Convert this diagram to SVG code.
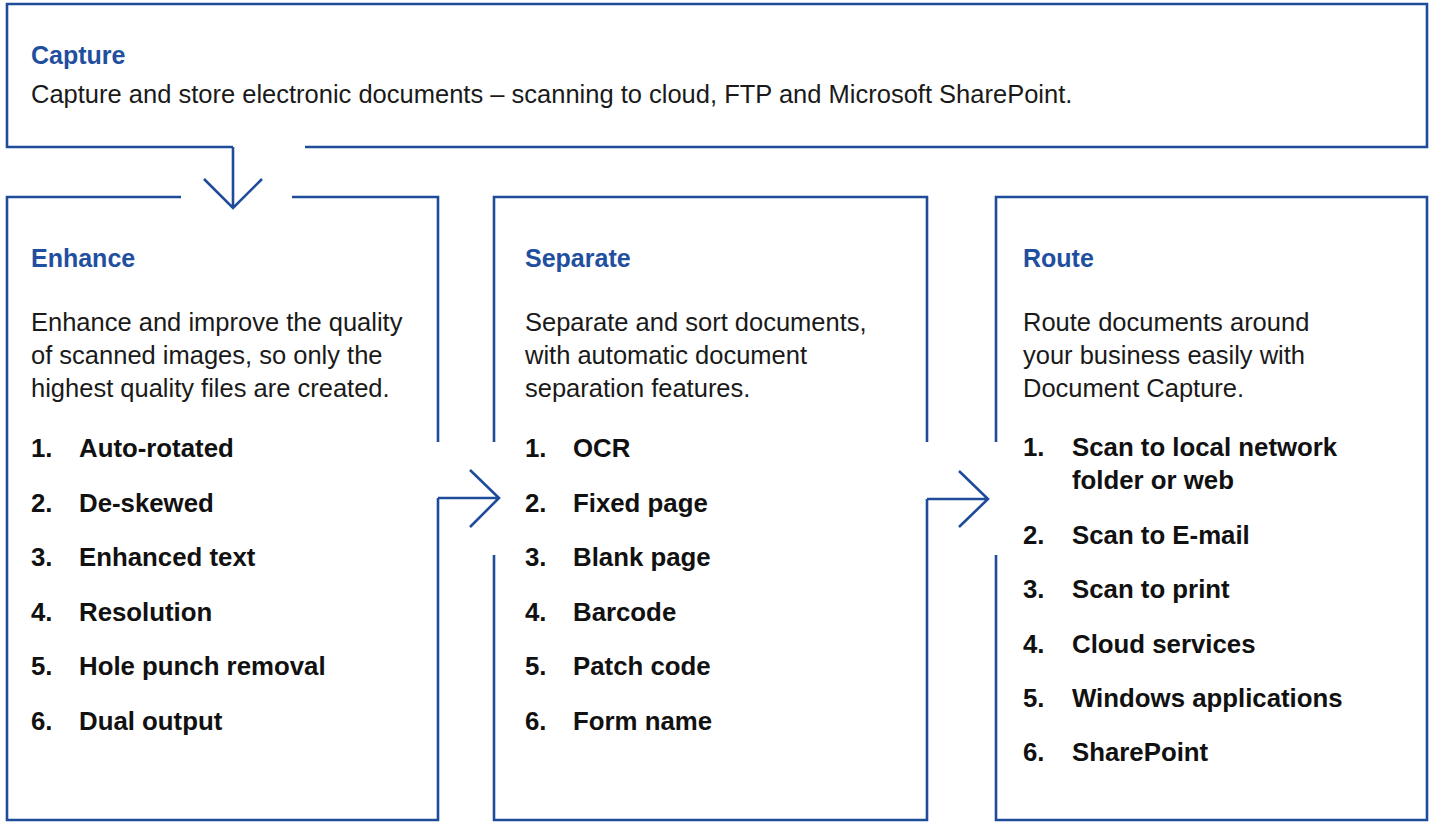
<svg xmlns="http://www.w3.org/2000/svg" width="1434" height="822" viewBox="0 0 1434 822">
<style>
.ln{fill:none;stroke:#1e4c9a;stroke-width:2.6;stroke-linejoin:miter;stroke-linecap:butt}
.h{font-family:"Liberation Sans",Arial,sans-serif;font-weight:bold;font-size:25px;fill:#1f4f9e}
.b{font-family:"Liberation Sans",Arial,sans-serif;font-size:25.5px;fill:#1a1a1a}
.li{font-family:"Liberation Sans",Arial,sans-serif;font-weight:bold;font-size:25.8px;fill:#111}
</style>
<rect width="1434" height="822" fill="#fff"/>
<g id="capture">
<path class="ln" d="M233 147 H7 V4 H1427 V147 H305"/>
<text class="h" x="31" y="64">Capture</text>
<text class="b" x="31" y="103">Capture and store electronic documents – scanning to cloud, FTP and Microsoft SharePoint.</text>
</g>
<g id="enhance">
<path class="ln" d="M181 197 H7 V820 H438 V498 M292 197 H438 V442"/>
<text class="h" x="31" y="267">Enhance</text>
<text class="b" x="31" y="331">Enhance and improve the quality</text>
<text class="b" x="31" y="364">of scanned images, so only the</text>
<text class="b" x="31" y="397">highest quality files are created.</text>
<g class="li">
<text x="31" y="457">1.</text><text x="79" y="457">Auto-rotated</text>
<text x="31" y="511.5">2.</text><text x="79" y="511.5">De-skewed</text>
<text x="31" y="566">3.</text><text x="79" y="566">Enhanced text</text>
<text x="31" y="620.5">4.</text><text x="79" y="620.5">Resolution</text>
<text x="31" y="675">5.</text><text x="79" y="675">Hole punch removal</text>
<text x="31" y="729.5">6.</text><text x="79" y="729.5">Dual output</text>
</g>
</g>
<g id="separate">
<path class="ln" d="M494 555 V820 H927 V499 M927 442 V197 H494 V442"/>
<text class="h" x="525" y="267">Separate</text>
<text class="b" x="525" y="331">Separate and sort documents,</text>
<text class="b" x="525" y="364">with automatic document</text>
<text class="b" x="525" y="397">separation features.</text>
<g class="li">
<text x="525" y="457">1.</text><text x="573" y="457">OCR</text>
<text x="525" y="511.5">2.</text><text x="573" y="511.5">Fixed page</text>
<text x="525" y="566">3.</text><text x="573" y="566">Blank page</text>
<text x="525" y="620.5">4.</text><text x="573" y="620.5">Barcode</text>
<text x="525" y="675">5.</text><text x="573" y="675">Patch code</text>
<text x="525" y="729.5">6.</text><text x="573" y="729.5">Form name</text>
</g>
</g>
<g id="route">
<path class="ln" d="M996 442 V197 H1427 V820 H996 V555"/>
<text class="h" x="1023" y="267">Route</text>
<text class="b" x="1023" y="331">Route documents around</text>
<text class="b" x="1023" y="364">your business easily with</text>
<text class="b" x="1023" y="397">Document Capture.</text>
<g class="li">
<text x="1023" y="456">1.</text><text x="1072" y="456">Scan to local network</text>
<text x="1072" y="489">folder or web</text>
<text x="1023" y="544">2.</text><text x="1072" y="544">Scan to E-mail</text>
<text x="1023" y="598">3.</text><text x="1072" y="598">Scan to print</text>
<text x="1023" y="653">4.</text><text x="1072" y="653">Cloud services</text>
<text x="1023" y="707">5.</text><text x="1072" y="707">Windows applications</text>
<text x="1023" y="761">6.</text><text x="1072" y="761">SharePoint</text>
</g>
</g>
<g id="connectors">
<path class="ln" d="M233 147 V208 M204 179 L233 208 L262 179"/>
<path class="ln" d="M438 498 H499 M470 470 L499 498 L470 527"/>
<path class="ln" d="M927 499 H988 M959 471 L988 499 L959 527"/>
</g>
</svg>
